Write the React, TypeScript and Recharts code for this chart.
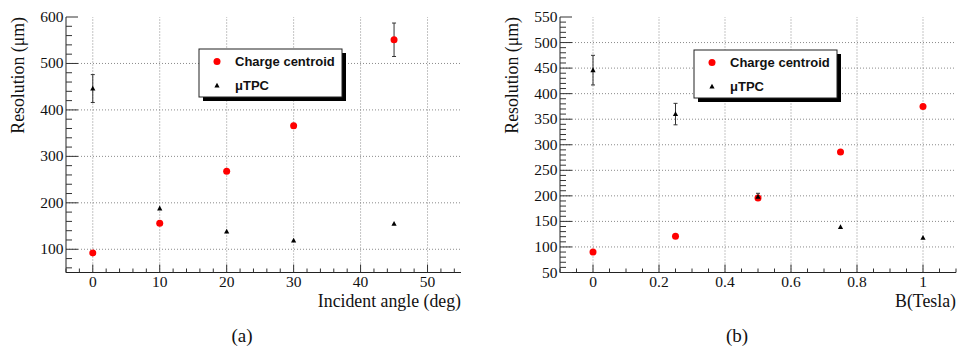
import React from "react";
import { ScatterChart, Scatter, XAxis, YAxis, ErrorBar, ReferenceLine } from "recharts";

// (a) resolution vs incident angle
const angles = [0, 10, 20, 30, 45];
const angleCentroid = [92, 156, 268, 366, 551];
const angleCentroidErr = [null, null, null, 5, 36];
const angleTpc = [446, 188, 138, 119, 155];
const angleTpcErr = [30, null, null, null, null];
const angleXTicks = [0, 10, 20, 30, 40, 50];
const angleYTicks = [100, 200, 300, 400, 500, 600];

// (b) resolution vs magnetic field
const fields = [0, 0.25, 0.5, 0.75, 1];
const fieldCentroid = [90, 121, 196, 286, 375];
const fieldCentroidErr = [null, null, null, null, null];
const fieldTpc = [446, 360, 198, 139, 118];
const fieldTpcErr = [29, 21, 7, null, null];
const fieldXTicks = [0, 0.2, 0.4, 0.6, 0.8, 1];
const fieldYTicks = [50, 100, 150, 200, 250, 300, 350, 400, 450, 500, 550];

const serif = "Liberation Serif, Times New Roman, serif";
const sans = "Liberation Sans, Arial, sans-serif";

const toPoints = (xs: number[], ys: number[], errs: (number | null)[]) =>
  xs.map((x, i) => ({ x, y: ys[i], err: errs[i] ?? undefined }));

const steps = (lo: number, hi: number, step: number) => {
  const out: number[] = [];
  for (let v = lo; v <= hi + step / 2; v += step) out.push(Math.round(v * 1000) / 1000);
  return out;
};

type Side = "bottom" | "left" | "top" | "right";

const makeTick = (side: Side, majors: number[]) => (props: any) => {
  const { x, y, payload } = props;
  const v = payload.value;
  const major = majors.some((m) => Math.abs(m - v) < 1e-6);
  const vertical = side === "bottom" || side === "top";
  const len = vertical ? (major ? 8 : 4) : major ? 12 : 6;
  let x2 = x;
  let y2 = y;
  if (side === "bottom") y2 = y - len;
  if (side === "top") y2 = y + len;
  if (side === "left") x2 = x + len;
  if (side === "right") x2 = x - len;
  return (
    <g>
      <line x1={x} y1={y} x2={x2} y2={y2} stroke="#333" strokeWidth={1} />
      {major && side === "bottom" && (
        <text x={x} y={y + 14.5} textAnchor="middle" fontFamily={serif} fontSize={15.5} fill="#111">
          {String(v)}
        </text>
      )}
      {major && side === "left" && (
        <text x={x - 2.5} y={y + 5} textAnchor="end" fontFamily={serif} fontSize={15.5} fill="#111">
          {String(v)}
        </text>
      )}
    </g>
  );
};

const Dot = (props: any) => <circle cx={props.cx} cy={props.cy} r={3.5} fill="#ff0000" />;
const Tri = (props: any) => {
  const { cx, cy } = props;
  return <polygon points={`${cx - 2.6},${cy + 2} ${cx + 2.6},${cy + 2} ${cx},${cy - 2.8}`} fill="#000" />;
};

interface PanelProps {
  width: number;
  left: number;
  plotLeft: number;
  plotRight: number;
  xDomain: [number, number];
  yDomain: [number, number];
  xMajors: number[];
  yMajors: number[];
  xMinors: number[];
  yMinors: number[];
  centroid: { x: number; y: number; err?: number }[];
  tpc: { x: number; y: number; err?: number }[];
}

const Panel = (p: PanelProps) => {
  const xGrid = p.xMajors.filter((v) => v > p.xDomain[0] && v < p.xDomain[1]);
  const yGrid = p.yMajors.filter((v) => v > p.yDomain[0] && v < p.yDomain[1]);
  const common = { type: "number" as const, allowDataOverflow: true, interval: 0 as const, tickSize: 0, tickMargin: 0, tickLine: false, axisLine: { stroke: "#222" } };
  return (
    <div style={{ position: "absolute", left: p.left, top: 0 }}>
      <ScatterChart width={p.width} height={347} margin={{ top: 17, right: p.width - p.plotRight, bottom: 0, left: 0 }}>
        <XAxis {...common} dataKey="x" domain={p.xDomain} ticks={p.xMinors} height={74.5} tick={makeTick("bottom", p.xMajors)} />
        <XAxis {...common} xAxisId="top" orientation="top" domain={p.xDomain} ticks={p.xMinors} height={0} tick={makeTick("top", p.xMajors)} />
        <YAxis {...common} dataKey="y" domain={p.yDomain} ticks={p.yMinors} width={p.plotLeft} tick={makeTick("left", p.yMajors)} />
        <YAxis {...common} yAxisId="right" orientation="right" domain={p.yDomain} ticks={p.yMinors} width={0} tick={makeTick("right", p.yMajors)} />
        {xGrid.map((v) => (
          <ReferenceLine key={"gx" + v} x={v} stroke="#8a8a8a" strokeDasharray="1 2" />
        ))}
        {yGrid.map((v) => (
          <ReferenceLine key={"gy" + v} y={v} stroke="#8a8a8a" strokeDasharray="1 2" />
        ))}
        <Scatter data={p.centroid} shape={Dot} isAnimationActive={false}>
          <ErrorBar dataKey="err" direction="y" width={2} stroke="#333" strokeWidth={1} isAnimationActive={false} />
        </Scatter>
        <Scatter data={p.tpc} shape={Tri} isAnimationActive={false}>
          <ErrorBar dataKey="err" direction="y" width={2} stroke="#333" strokeWidth={1} isAnimationActive={false} />
        </Scatter>
      </ScatterChart>
    </div>
  );
};

const LegendBox = ({ x, y }: { x: number; y: number }) => (
  <g>
    <rect x={x + 4} y={y + 4} width={143} height={48} fill="#000" />
    <rect x={x} y={y} width={143} height={48} fill="#fff" stroke="#222" strokeWidth={1} />
    <circle cx={x + 18} cy={y + 12.5} r={3.5} fill="#ff0000" />
    <text x={x + 36} y={y + 17} fontFamily={sans} fontWeight="bold" fontSize={13} fill="#111">
      Charge centroid
    </text>
    <polygon points={`${x + 15.4},${y + 38.5} ${x + 20.6},${y + 38.5} ${x + 18},${y + 33.7}`} fill="#000" />
    <text x={x + 36} y={y + 41} fontFamily={sans} fontWeight="bold" fontSize={13} fill="#111">
      μTPC
    </text>
  </g>
);

export default function App() {
  return (
    <div style={{ position: "absolute", left: 0, top: 0, width: 958, height: 347, background: "#fff" }}>
      <Panel
        width={480}
        left={0}
        plotLeft={66}
        plotRight={461}
        xDomain={[-4, 55]}
        yDomain={[50, 600]}
        xMajors={angleXTicks}
        yMajors={angleYTicks}
        xMinors={steps(-4, 54, 2)}
        yMinors={steps(60, 600, 20)}
        centroid={toPoints(angles, angleCentroid, angleCentroidErr)}
        tpc={toPoints(angles, angleTpc, angleTpcErr)}
      />
      <Panel
        width={478}
        left={480}
        plotLeft={80}
        plotRight={476}
        xDomain={[-0.1, 1.1]}
        yDomain={[50, 550]}
        xMajors={fieldXTicks}
        yMajors={fieldYTicks}
        xMinors={steps(-0.1, 1.1, 0.05)}
        yMinors={steps(50, 550, 10)}
        centroid={toPoints(fields, fieldCentroid, fieldCentroidErr)}
        tpc={toPoints(fields, fieldTpc, fieldTpcErr)}
      />
      <svg width={958} height={347} style={{ position: "absolute", left: 0, top: 0, pointerEvents: "none" }}>
        <LegendBox x={199} y={49} />
        <LegendBox x={694} y={50} />
        <text transform="translate(24,17) rotate(-90)" textAnchor="end" fontFamily={serif} fontSize={17.8} fill="#111">
          Resolution (μm)
        </text>
        <text transform="translate(518,17) rotate(-90)" textAnchor="end" fontFamily={serif} fontSize={17.8} fill="#111">
          Resolution (μm)
        </text>
        <text x={461} y={307} textAnchor="end" fontFamily={serif} fontSize={17.8} fill="#111">
          Incident angle (deg)
        </text>
        <text x={956} y={307} textAnchor="end" fontFamily={serif} fontSize={17.8} fill="#111">
          B(Tesla)
        </text>
        <text x={242} y={342} textAnchor="middle" fontFamily={serif} fontSize={19} fill="#111">
          (a)
        </text>
        <text x={737} y={342} textAnchor="middle" fontFamily={serif} fontSize={19} fill="#111">
          (b)
        </text>
      </svg>
    </div>
  );
}
